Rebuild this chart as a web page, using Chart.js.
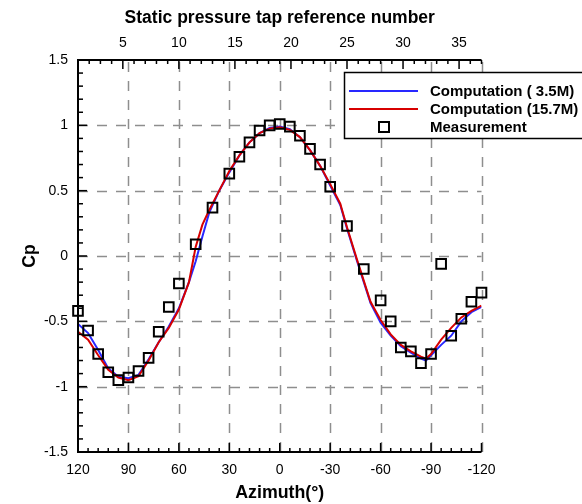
<!DOCTYPE html>
<html>
<head>
<meta charset="utf-8">
<script src="https://cdn.jsdelivr.net/npm/chart.js@4.4.1/dist/chart.umd.min.js"></script>
<style>
  html, body { margin: 0; padding: 0; background: #fff; }
</style>
</head>
<body>
<canvas id="diagram" width="582" height="504"></canvas>
<script>
// Mätdata (tryckuttag 1-37)
const measAz = [120, 114, 108, 102, 96, 90, 84, 78, 72, 66, 60, 50, 40,
  30, 24, 18, 12, 6, 0, -6, -12, -18, -24, -30, -40, -50,
  -60, -66, -72, -78, -84, -90, -96, -102, -108, -114, -120];
const measCp = [-0.42, -0.57, -0.75, -0.89, -0.95, -0.93, -0.88, -0.78, -0.58, -0.39, -0.21, 0.09, 0.37,
  0.63, 0.76, 0.87, 0.96, 1.0, 1.01, 0.99, 0.92, 0.82, 0.7, 0.53, 0.23, -0.1,
  -0.34, -0.5, -0.7, -0.73, -0.82, -0.75, -0.06, -0.61, -0.48, -0.35, -0.28];

// Beräkningar
const compAz = [120, 114, 108, 102, 96, 90, 84, 78, 72, 66, 60, 54, 50, 46, 42, 36,
  30, 24, 18, 12, 6, 0, -6, -12, -18, -24, -30, -36, -40, -46, -50, -54,
  -60, -66, -72, -78, -84, -87, -90, -96, -102, -108, -114, -120];
const cpCoarse = [-0.52, -0.59, -0.72, -0.86, -0.925, -0.935, -0.91, -0.79, -0.66, -0.54, -0.4, -0.2, -0.04, 0.15, 0.33, 0.5,
  0.64, 0.77, 0.87, 0.94, 0.98, 0.99, 0.97, 0.91, 0.81, 0.69, 0.54, 0.39, 0.21, -0.04, -0.2, -0.36,
  -0.51, -0.61, -0.69, -0.74, -0.785, -0.8, -0.76, -0.68, -0.61, -0.5, -0.43, -0.39];
const cpFine = [-0.58, -0.64, -0.76, -0.87, -0.93, -0.95, -0.92, -0.8, -0.66, -0.55, -0.41, -0.2, 0.07, 0.24, 0.35, 0.5,
  0.65, 0.77, 0.87, 0.94, 0.975, 0.985, 0.965, 0.91, 0.81, 0.69, 0.55, 0.4, 0.22, -0.03, -0.19, -0.35,
  -0.49, -0.6, -0.68, -0.73, -0.77, -0.785, -0.75, -0.64, -0.55, -0.47, -0.42, -0.38];

// axlar
const azMajor = [120, 90, 60, 30, 0, -30, -60, -90, -120];
const cpMajor = [-1.5, -1, -0.5, 0, 0.5, 1, 1.5];
const tapMajor = [5, 10, 15, 20, 25, 30, 35];

const legendLabels = ["Computation ( 3.5M)", "Computation (15.7M)", "Measurement"];

const blue = "rgb(40,40,255)";
const red = "rgb(215,0,0)";

Chart.defaults.font.family = "'Liberation Sans', Arial, sans-serif";
Chart.defaults.color = "#000";

function toPoints(xs, ys) {
  return xs.map((v, i) => ({ x: v, y: ys[i] }));
}

// ritar streckat rutnät, ticks inåt, axellinjer och förklaring
const framePlugin = {
  id: "frame",
  beforeDatasetsDraw(chart) {
    const { ctx, chartArea: a, scales } = chart;
    const x = scales.x, y = scales.y;
    ctx.save();
    ctx.strokeStyle = "#8e8e8e";
    ctx.lineWidth = 1.5;
    ctx.setLineDash([10, 9]);
    azMajor.forEach((v) => {
      if (v === 120) return;
      const px = Math.round(x.getPixelForValue(v)) + 0.5;
      ctx.beginPath();
      ctx.moveTo(px, a.bottom);
      ctx.lineTo(px, a.top);
      ctx.stroke();
    });
    cpMajor.forEach((v) => {
      if (Math.abs(v) === 1.5) return;
      const py = Math.round(y.getPixelForValue(v)) + 0.5;
      ctx.beginPath();
      ctx.moveTo(a.left, py);
      ctx.lineTo(a.right, py);
      ctx.stroke();
    });
    ctx.restore();
  },
  afterDatasetsDraw(chart) {
    const { ctx, chartArea: a, scales } = chart;
    const x = scales.x, x2 = scales.x2, y = scales.y;
    ctx.save();
    ctx.strokeStyle = "#000";
    ctx.lineWidth = 1.5;
    ctx.setLineDash([]);

    // botten: major var 30, minor var 6 grader
    for (let v = -120; v <= 120; v += 6) {
      const px = x.getPixelForValue(v);
      const len = v % 30 === 0 ? 9 : 4;
      ctx.beginPath();
      ctx.moveTo(px, a.bottom);
      ctx.lineTo(px, a.bottom - len);
      ctx.stroke();
    }
    // topp: varje uttag
    for (let t = 1; t <= 37; t++) {
      const px = x2.getPixelForValue(t);
      const len = tapMajor.includes(t) ? 9 : 4;
      ctx.beginPath();
      ctx.moveTo(px, a.top);
      ctx.lineTo(px, a.top + len);
      ctx.stroke();
    }
    // vänster: major 0.5, minor 0.1
    for (let k = -15; k <= 15; k++) {
      const py = y.getPixelForValue(k / 10);
      const len = k % 5 === 0 ? 9 : 5;
      ctx.beginPath();
      ctx.moveTo(a.left, py);
      ctx.lineTo(a.left + len, py);
      ctx.stroke();
    }

    // axellinjer
    ctx.lineWidth = 2;
    ctx.beginPath();
    ctx.moveTo(a.right, a.top);
    ctx.lineTo(a.left, a.top);
    ctx.lineTo(a.left, a.bottom);
    ctx.lineTo(a.right, a.bottom);
    ctx.stroke();

    // förklaring
    const bx = 344, by = 72, bw = 250, bh = 66;
    ctx.fillStyle = "#fff";
    ctx.fillRect(bx, by, bw, bh);
    ctx.lineWidth = 1.5;
    ctx.strokeRect(bx + 0.5, by + 0.5, bw, bh);

    const rows = [91, 109, 127];
    ctx.lineWidth = 2;
    ctx.strokeStyle = blue;
    ctx.beginPath(); ctx.moveTo(349, rows[0]); ctx.lineTo(418, rows[0]); ctx.stroke();
    ctx.strokeStyle = red;
    ctx.beginPath(); ctx.moveTo(349, rows[1]); ctx.lineTo(418, rows[1]); ctx.stroke();
    ctx.strokeStyle = "#000";
    ctx.strokeRect(384 - 5, rows[2] - 5, 10, 10);

    ctx.fillStyle = "#000";
    ctx.font = "bold 15px 'Liberation Sans', Arial, sans-serif";
    ctx.textBaseline = "middle";
    ctx.textAlign = "left";
    legendLabels.forEach((txt, i) => ctx.fillText(txt, 430, rows[i] + 1));
    ctx.restore();
  },
};

const datasets = [
  {
    label: legendLabels[2],
    data: toPoints(measAz, measCp),
    showLine: false,
    pointStyle: "rect",
    pointRadius: 6.8,
    pointBorderWidth: 2,
    pointBorderColor: "#000",
    pointBackgroundColor: "rgba(0,0,0,0)",
    clip: false,
  },
  {
    label: legendLabels[1],
    data: toPoints(compAz, cpFine),
    showLine: true,
    borderColor: red,
    borderWidth: 2,
    pointRadius: 0,
    tension: 0,
  },
  {
    label: legendLabels[0],
    data: toPoints(compAz, cpCoarse),
    showLine: true,
    borderColor: blue,
    borderWidth: 2,
    pointRadius: 0,
    tension: 0,
  },
];

const config = {
  type: "scatter",
  data: { datasets: datasets },
  options: {
    responsive: false,
    animation: false,
    devicePixelRatio: 1,
    layout: { padding: { left: 0, right: 100.5, top: 0, bottom: 0 } },
    plugins: { legend: { display: false }, tooltip: { enabled: false } },
    scales: {
      x: {
        type: "linear",
        position: "bottom",
        reverse: true,
        min: -120,
        max: 120,
        ticks: { stepSize: 30, font: { size: 14 }, padding: 10, maxRotation: 0, autoSkip: false },
        grid: { display: false, drawTicks: false },
        border: { display: false },
        title: {
          display: true,
          text: "Azimuth(°)",
          font: { size: 17.8, weight: "bold" },
          padding: { top: 0, bottom: 0 },
        },
        afterFit: (s) => { s.height = 52; },
      },
      x2: {
        type: "linear",
        position: "top",
        min: 1,
        max: 37,
        afterBuildTicks: (s) => { s.ticks = tapMajor.map((v) => ({ value: v })); },
        ticks: { font: { size: 14 }, padding: 8, maxRotation: 0, autoSkip: false },
        grid: { display: false, drawTicks: false },
        border: { display: false },
        title: {
          display: true,
          text: "Static pressure tap reference number",
          font: { size: 17.5, weight: "bold" },
          padding: { top: 8, bottom: 0 },
        },
        afterFit: (s) => { s.height = 60; },
      },
      y: {
        min: -1.5,
        max: 1.5,
        ticks: {
          stepSize: 0.5,
          font: { size: 14 },
          padding: 10,
          callback: (v) => String(v),
        },
        grid: { display: false, drawTicks: false },
        border: { display: false },
        title: {
          display: true,
          text: "Cp",
          font: { size: 17.5, weight: "bold" },
          padding: { top: 20, bottom: 0 },
        },
        afterFit: (s) => { s.width = 78; },
      },
    },
  },
  plugins: [framePlugin],
};

const canvas = document.getElementById("diagram");
const chart = new Chart(canvas, config);
</script>
</body>
</html>
